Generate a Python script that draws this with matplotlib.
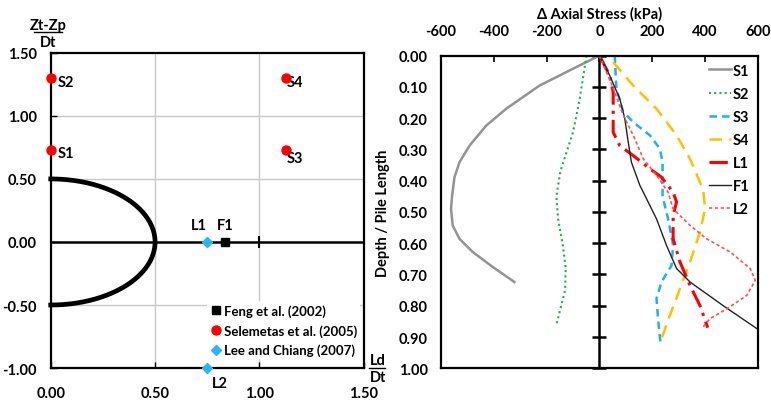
import numpy as np
import matplotlib
matplotlib.use("Agg")
import matplotlib.pyplot as plt
from matplotlib.lines import Line2D

plt.rcParams['font.family'] = ['Lato', 'DejaVu Sans']
plt.rcParams['font.weight'] = 'bold'

# ---------------- Left panel data ----------------
feng_x = [0.835]; feng_y = [0.0]; feng_lbl = ['F1']
sel_x = [0.0, 0.0, 1.125, 1.125]; sel_y = [0.73, 1.30, 0.73, 1.30]; sel_lbl = ['S1', 'S2', 'S3', 'S4']
lee_x = [0.75, 0.75]; lee_y = [0.0, -1.0]; lee_lbl = ['L1', 'L2']
ellipse_a = 0.5  # half-width (Ld/Dt)
ellipse_b = 0.5  # half-height (Zt-Zp)/Dt
left_xticks = [0.0, 0.5, 1.0, 1.5]
left_yticks = [-1.0, -0.5, 0.0, 0.5, 1.0, 1.5]

# ---------------- Right panel data ----------------
s1_d = [0, 0.042, 0.096, 0.17, 0.224, 0.288, 0.341, 0.389, 0.447, 0.49, 0.543, 0.586, 0.628, 0.676, 0.724]
s1_x = [0, -100, -227, -353, -429, -492, -530, -549, -558, -562, -556, -530, -480, -404, -322]
s2_d = [0, 0.14, 0.245, 0.37, 0.45, 0.52, 0.61, 0.68, 0.75, 0.80, 0.86]
s2_x = [-49, -75, -100, -148, -163, -157, -138, -128, -130, -145, -163]
s3_d = [0, 0.106, 0.18, 0.213, 0.255, 0.298, 0.341, 0.45, 0.522, 0.607, 0.671, 0.724, 0.777, 0.852, 0.925]
s3_x = [58, 64, 90, 128, 191, 229, 239, 239, 260, 279, 273, 235, 216, 223, 232]
s4_d = [0.021, 0.096, 0.17, 0.255, 0.33, 0.43, 0.49, 0.564, 0.66, 0.745, 0.83, 0.905]
s4_x = [52, 128, 216, 292, 343, 393, 400, 381, 343, 305, 267, 235]
l1_d = [0, 0.064, 0.117, 0.19, 0.245, 0.288, 0.32, 0.362, 0.389, 0.437, 0.468, 0.511, 0.586, 0.66, 0.735, 0.80, 0.87]
l1_x = [0, 39, 52, 52, 52, 77, 128, 191, 235, 279, 292, 279, 279, 305, 343, 381, 410]
f1_d = [0, 0.064, 0.138, 0.202, 0.277, 0.341, 0.415, 0.437, 0.522, 0.607, 0.681, 0.724, 0.80, 0.873]
f1_x = [0, 39, 77, 96, 109, 121, 153, 166, 216, 254, 292, 343, 469, 596]
l2_d = [0, 0.10, 0.19, 0.255, 0.33, 0.383, 0.437, 0.49, 0.543, 0.586, 0.628, 0.681, 0.719, 0.767, 0.81, 0.841, 0.873]
l2_x = [0, 50, 90, 128, 166, 216, 260, 279, 343, 406, 495, 571, 590, 558, 482, 419, 387]
right_xticks = [-600, -400, -200, 0, 200, 400, 600]
right_yticks = [0.0, 0.1, 0.2, 0.3, 0.4, 0.5, 0.6, 0.7, 0.8, 0.9, 1.0]

fig = plt.figure(figsize=(7.71, 4.02), dpi=100)
fs = 10.5
lfs = 9.5

# ================= LEFT =================
ax = fig.add_axes([0.0658, 0.082, 0.406, 0.784])
ax.set_xlim(0, 1.5)
ax.set_ylim(-1.0, 1.5)
for v in [0.5, 1.0]:
    ax.axvline(v, color='#c8c8c8', lw=1.0, zorder=0)
for v in [-0.5, 0.5, 1.0]:
    ax.axhline(v, color='#c8c8c8', lw=1.0, zorder=0)
ax.axhline(0, color='black', lw=1.8, zorder=1)
t = np.linspace(-np.pi / 2, np.pi / 2, 200)
ax.plot(ellipse_a * np.cos(t), ellipse_b * np.sin(t), color='black', lw=3.4, zorder=2, clip_on=False)
ax.plot([1.0], [0.0], marker='|', color='black', ms=9, mew=1.5, zorder=2)
ax.set_xticks(left_xticks)
ax.set_yticks(left_yticks)
ax.set_xticklabels([f'{v:.2f}' for v in left_xticks], fontsize=fs, fontweight='bold')
ax.set_yticklabels([f'{v:.2f}' for v in left_yticks], fontsize=fs, fontweight='bold')
ax.tick_params(axis='x', length=4, direction='in', width=1.0, pad=13)
ax.tick_params(axis='y', length=4, direction='in', width=1.0, pad=10)
for sp in ax.spines.values():
    sp.set_linewidth(1.6)

hf, = ax.plot(feng_x, feng_y, 's', color='black', ms=6, ls='none', zorder=5, clip_on=False, label='Feng et al. (2002)')
hs, = ax.plot(sel_x, sel_y, 'o', color='red', ms=6.5, ls='none', zorder=5, clip_on=False, label='Selemetas et al. (2005)')
hl, = ax.plot(lee_x, lee_y, 'D', color='#29b6f6', ms=5, ls='none', zorder=5, clip_on=False, label='Lee and Chiang (2007)')

lab_kw = dict(fontsize=fs, fontweight='bold')
offsets = {'S1': (5, -2, 'left', 'center'), 'S2': (5, -3, 'left', 'center'),
           'S3': (1, -6, 'left', 'center'), 'S4': (1, -3, 'left', 'center'),
           'L1': (-6, 7, 'center', 'bottom'), 'F1': (0, 7, 'center', 'bottom'),
           'L2': (3, -6, 'left', 'top')}
for xs, ys, ls_ in [(feng_x, feng_y, feng_lbl), (sel_x, sel_y, sel_lbl), (lee_x, lee_y, lee_lbl)]:
    for x, y, s in zip(xs, ys, ls_):
        dx, dy, ha, va = offsets[s]
        ax.annotate(s, (x, y), xytext=(dx, dy), textcoords='offset points', ha=ha, va=va, **lab_kw)

leg = ax.legend(handles=[hf, hs, hl], loc='lower right', bbox_to_anchor=(0.995, 0.02),
                frameon=True, framealpha=1, edgecolor='none', facecolor='white',
                fontsize=lfs, handletextpad=0.1, borderpad=0.2, labelspacing=0.55,
                handlelength=1.0, borderaxespad=0.2)
for txt in leg.get_texts():
    txt.set_fontweight('bold')

# axis title fractions
fig.text(48 / 771, 1 - 26 / 402, 'Zt-Zp', ha='center', va='center', fontsize=fs, fontweight='bold')
fig.add_artist(Line2D([34 / 771, 62 / 771], [1 - 33 / 402, 1 - 33 / 402], color='black', lw=1.0))
fig.text(48 / 771, 1 - 43 / 402, 'Dt', ha='center', va='center', fontsize=fs, fontweight='bold')
fig.text(370 / 771, 1 - 361 / 402, 'Ld', ha='left', va='center', fontsize=fs, fontweight='bold')
fig.add_artist(Line2D([369 / 771, 385 / 771], [1 - 369 / 402, 1 - 369 / 402], color='black', lw=1.0))
fig.text(370 / 771, 1 - 378 / 402, 'Dt', ha='left', va='center', fontsize=fs, fontweight='bold')

# ================= RIGHT =================
bx = fig.add_axes([0.572, 0.0813, 0.411, 0.778])
bx.set_xlim(-600, 600)
bx.set_ylim(1.0, 0.0)
bx.xaxis.tick_top()
bx.xaxis.set_label_position('top')
bx.set_xticks(right_xticks)
bx.set_xticklabels([str(v) for v in right_xticks], fontsize=fs, fontweight='bold')
bx.set_yticks(right_yticks)
bx.set_yticklabels([f'{v:.2f}' for v in right_yticks], fontsize=fs, fontweight='bold')
bx.tick_params(axis='x', direction='in', length=4, width=1.2, pad=13)
bx.tick_params(axis='y', length=0, pad=9.5)
bx.set_xlabel('Δ Axial Stress (kPa)', fontsize=fs, fontweight='bold', labelpad=4)
bx.set_ylabel('Depth / Pile Length', fontsize=fs, fontweight='bold', labelpad=6)
for sp in bx.spines.values():
    sp.set_linewidth(1.6)
bx.axvline(0, color='black', lw=1.8, zorder=1)
bx.plot(np.zeros(len(right_yticks)), right_yticks, ls='none', marker='_', ms=10, mew=1.8,
        color='black', zorder=1, clip_on=False)

bx.plot(s1_x, s1_d, color='#939393', lw=1.8, label='S1')
bx.plot(s2_x, s2_d, color='#1fae4a', lw=1.5, ls=(0, (1, 1.5)), label='S2')
bx.plot(s3_x, s3_d, color='#1fb0f0', lw=1.8, ls=(0, (3, 2)), label='S3')
bx.plot(s4_x, s4_d, color='#ffc000', lw=1.8, ls=(0, (5, 3)), label='S4')
bx.plot(l1_x, l1_d, color='#ff0000', lw=2.2, ls=(0, (6, 2, 1, 2)), label='L1')
bx.plot(f1_x, f1_d, color='#222222', lw=1.0, label='F1')
bx.plot(l2_x, l2_d, color='#ff5050', lw=1.2, ls=(0, (2, 1.5)), label='L2')

leg2 = bx.legend(loc='upper right', frameon=False, fontsize=fs, handlelength=1.5,
                 handletextpad=0.15, labelspacing=0.62, borderaxespad=0.15)
for txt in leg2.get_texts():
    txt.set_fontweight('bold')

fig.savefig('out.png', dpi=100)
